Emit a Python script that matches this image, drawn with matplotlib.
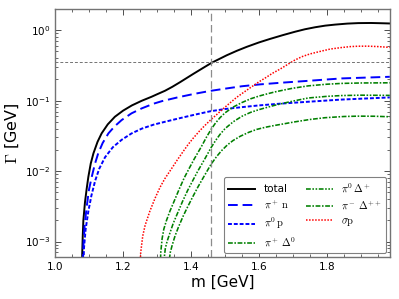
import math
import matplotlib
matplotlib.use("Agg")
import matplotlib.pyplot as plt
from matplotlib.ticker import MultipleLocator, LogLocator, FuncFormatter, NullFormatter

plt.rcParams['mathtext.fontset'] = 'cm'
plt.rcParams['font.family'] = ['DejaVu Sans']

# ---- data ----
total_x = [1.0782, 1.0800, 1.0814, 1.0833, 1.088, 1.093, 1.098, 1.105, 1.113, 1.125, 1.137, 1.155,
           1.176, 1.200, 1.226, 1.255, 1.284, 1.300, 1.3235, 1.345, 1.368, 1.407, 1.435, 1.461,
           1.505, 1.535, 1.564, 1.600, 1.632, 1.670, 1.706, 1.735, 1.765, 1.795, 1.824, 1.860,
           1.892, 1.930, 1.960, 1.985]
total_y = [3e-4, 7e-4, 0.00118, 0.0020, 0.0036, 0.0056, 0.0083, 0.0128, 0.0179, 0.026, 0.0343, 0.046,
           0.059, 0.072, 0.0855, 0.0995, 0.1135, 0.123, 0.138, 0.157, 0.183, 0.240, 0.29, 0.345,
           0.44, 0.51, 0.58, 0.67, 0.75, 0.85, 0.95, 1.03, 1.10, 1.16, 1.20, 1.24,
           1.26, 1.265, 1.255, 1.245]

pin_x = [1.0808, 1.0835, 1.087, 1.093, 1.100, 1.108, 1.117, 1.127, 1.140, 1.157, 1.175, 1.196,
         1.225, 1.255, 1.290, 1.315, 1.36, 1.407, 1.455, 1.505, 1.55, 1.603, 1.662, 1.745, 1.843, 1.985]
pin_y = [3e-4, 0.0009, 0.0017, 0.0031, 0.0055, 0.0083, 0.0125, 0.0179, 0.025, 0.0343, 0.043, 0.053,
         0.066, 0.0776, 0.0905, 0.0985, 0.111, 0.124, 0.137, 0.149, 0.16, 0.17, 0.179, 0.191, 0.2066, 0.218]

pi0p_x = [1.0825, 1.085, 1.090, 1.098, 1.107, 1.118, 1.130, 1.147, 1.170, 1.196, 1.225, 1.255,
          1.290, 1.3235, 1.368, 1.410, 1.456, 1.50, 1.554, 1.60, 1.662, 1.745, 1.843, 1.985]
pi0p_y = [3e-4, 0.0008, 0.0015, 0.0027, 0.0045, 0.0073, 0.0108, 0.0157, 0.0218, 0.0278, 0.0342, 0.0400,
          0.0456, 0.0501, 0.0565, 0.0630, 0.0705, 0.0760, 0.0812, 0.0855, 0.0905, 0.0964, 0.1035, 0.111]

pipD0_x = [1.3325, 1.335, 1.339, 1.345, 1.353, 1.363, 1.377, 1.39, 1.405, 1.42, 1.44, 1.459, 1.475,
           1.49, 1.507, 1.524, 1.545, 1.57, 1.593, 1.62, 1.647, 1.675, 1.706, 1.75, 1.794, 1.85,
           1.892, 1.94, 1.985]
pipD0_y = [3e-4, 0.0005, 0.0007, 0.0009, 0.0012, 0.0016, 0.0023, 0.0031, 0.0043, 0.0059, 0.0087, 0.0125,
           0.0160, 0.0195, 0.0235, 0.0272, 0.0312, 0.0355, 0.0390, 0.0420, 0.0445, 0.0470, 0.0500, 0.0540,
           0.0572, 0.0595, 0.0602, 0.0600, 0.0590]

pi0Dp_x = [1.318, 1.3205, 1.3245, 1.3295, 1.3375, 1.3475, 1.36, 1.375, 1.39, 1.405, 1.42, 1.44, 1.459,
           1.472, 1.485, 1.50, 1.524, 1.55, 1.575, 1.60, 1.625, 1.647, 1.675, 1.70, 1.745, 1.80,
           1.843, 1.90, 1.985]
pi0Dp_y = [3e-4, 0.00055, 0.0008, 0.0010, 0.0013, 0.0018, 0.0025, 0.0037, 0.0053, 0.0073, 0.0100, 0.0147,
           0.0215, 0.0270, 0.0330, 0.0400, 0.0500, 0.0600, 0.0680, 0.0745, 0.0805, 0.0860, 0.0925, 0.0985,
           0.1090, 0.1150, 0.1180, 0.1195, 0.1186]

pimDpp_x = [1.3085, 1.311, 1.315, 1.32, 1.328, 1.338, 1.35, 1.365, 1.38, 1.395, 1.41, 1.43, 1.445,
            1.459, 1.472, 1.485, 1.50, 1.524, 1.55, 1.575, 1.60, 1.625, 1.647, 1.675, 1.70, 1.745,
            1.80, 1.843, 1.90, 1.985]
pimDpp_y = [3e-4, 0.0007, 0.0011, 0.0015, 0.0020, 0.0027, 0.0037, 0.0055, 0.0080, 0.0110, 0.0150, 0.0220,
            0.0300, 0.0390, 0.0480, 0.0570, 0.0670, 0.0810, 0.0940, 0.1060, 0.1160, 0.1250, 0.1330, 0.1420,
            0.1500, 0.1620, 0.1710, 0.1755, 0.1780, 0.1790]

sigp_x = [1.2485, 1.252, 1.258, 1.265, 1.279, 1.294, 1.309, 1.323, 1.338, 1.358, 1.377, 1.392, 1.407,
          1.426, 1.44, 1.459, 1.475, 1.495, 1.515, 1.534, 1.554, 1.574, 1.60, 1.62, 1.64, 1.662,
          1.686, 1.705, 1.726, 1.75, 1.784, 1.81, 1.843, 1.87, 1.892, 1.92, 1.95, 1.985]
sigp_y = [3e-4, 0.0007, 0.0012, 0.0017, 0.0027, 0.0041, 0.0059, 0.0078, 0.0100, 0.0140, 0.0190, 0.0240,
          0.0295, 0.0375, 0.0440, 0.0540, 0.0630, 0.0770, 0.0930, 0.1110, 0.1300, 0.1520, 0.1850, 0.2120,
          0.2450, 0.2800, 0.3300, 0.3750, 0.4200, 0.4600, 0.5050, 0.5400, 0.5670, 0.5850, 0.5920, 0.5930,
          0.5850, 0.5700]

hline_y = 0.35
vline_x = 1.46

labels = ['total', r'$\pi^+\,\mathrm{n}$', r'$\pi^0\,\mathrm{p}$', r'$\pi^+\,\Delta^0$',
          r'$\pi^0\,\Delta^+$', r'$\pi^-\,\Delta^{++}$', r'$\sigma\mathrm{p}$']

# ---- figure ----
fig = plt.figure(figsize=(3.99, 2.99), dpi=100)
ax = fig.add_axes([0.138, 0.140, 0.839, 0.830])

green = (0.0, 0.5, 0.0)
ax.plot(total_x, total_y, color='black', lw=1.4, label=labels[0])
ax.plot(pin_x, pin_y, color='blue', lw=1.4, dashes=(5, 2.5), label=labels[1])
ax.plot(pi0p_x, pi0p_y, color='blue', lw=1.4, dashes=(2, 1), label=labels[2])
ax.plot(pipD0_x, pipD0_y, color=green, lw=1.15, dashes=(3, 1, 1, 1), label=labels[3])
ax.plot(pi0Dp_x, pi0Dp_y, color=green, lw=1.15, dashes=(3, 1, 1, 1, 1, 1), label=labels[4])
ax.plot(pimDpp_x, pimDpp_y, color=green, lw=1.15, dashes=(3, 1, 1, 1), label=labels[5])
ax.plot(sigp_x, sigp_y, color='red', lw=1.1, dashes=(1, 1), label=labels[6])

ax.axhline(hline_y, color='0.45', lw=0.7, dashes=(3, 2))
ax.axvline(vline_x, color='0.55', lw=0.9, dashes=(6, 3))

ax.set_yscale('log')
ax.set_xlim(1.0, 1.985)
ax.set_ylim(6e-4, 2.0)

ax.xaxis.set_major_locator(MultipleLocator(0.2))
ax.xaxis.set_minor_locator(MultipleLocator(0.05))
ax.yaxis.set_major_locator(LogLocator(base=10, numticks=10))
ax.yaxis.set_minor_locator(LogLocator(base=10, subs=range(2, 10), numticks=20))
ax.yaxis.set_minor_formatter(NullFormatter())


def logfmt(v, pos):
    e = int(round(math.log10(v)))
    return r'$\mathdefault{10^{%d}}$' % e


ax.yaxis.set_major_formatter(FuncFormatter(logfmt))
ax.xaxis.set_major_formatter(FuncFormatter(lambda v, p: '%.1f' % v))

ax.tick_params(which='both', direction='in', top=True, right=True, labelsize=7.5, color='0.3')
ax.tick_params(which='major', length=4, width=0.7)
ax.tick_params(which='minor', length=2, width=0.6)
for s in ax.spines.values():
    s.set_color('0.45')
    s.set_linewidth(1.0)

ax.set_xlabel('m [GeV]', fontsize=11, labelpad=2)
ax.set_ylabel(r'$\Gamma$ [GeV]', fontsize=11.5, labelpad=3)

leg = ax.legend(loc='lower right', ncol=2, fontsize=7.5, fancybox=True, framealpha=1,
                edgecolor='0.5', handlelength=2.6, labelspacing=0.42, columnspacing=1.0,
                borderaxespad=0.4, handletextpad=0.8, borderpad=0.4)
leg.get_frame().set_linewidth(0.8)

fig.savefig('out.png', dpi=100)
